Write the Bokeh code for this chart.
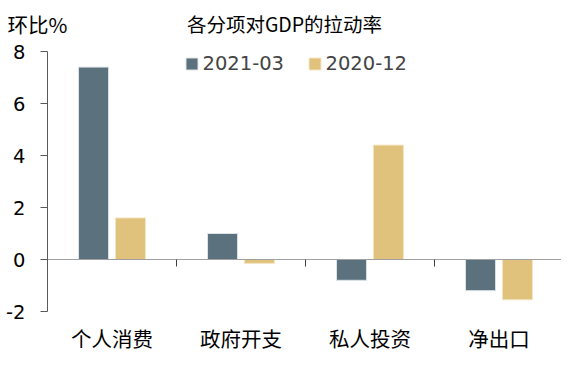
from bokeh.plotting import figure
from bokeh.models import (ColumnDataSource, Range1d, FixedTicker, LinearAxis, Label,
                          Legend, LegendItem)
from bokeh.transform import dodge
from bokeh.embed import file_html
from bokeh.resources import INLINE

categories = ["个人消费", "政府开支", "私人投资", "净出口"]
series_names = ["2021-03", "2020-12"]
values_2021_03 = [7.4, 1.0, -0.8, -1.2]
values_2020_12 = [1.6, -0.15, 4.4, -1.55]
y_ticks = [-2, 0, 2, 4, 6, 8]
y_tick_labels = ["-2", "0", "2", "4", "6", "8"]
title_text = "各分项对GDP的拉动率"
y_label = "环比%"

DARK = "#5C717E"
GOLD = "#E0C27C"
FONT = "Noto Sans CJK SC"
NUMFONT = "DejaVu Sans"

W, H = 561, 351
PX_X = 129          # px per category
PX_Y = 26           # px per y unit
LEFT, TOP = 47, 51  # px from canvas edge to the y axis / the top tick

n = len(categories)
x0 = -LEFT / PX_X
x1 = x0 + W / PX_X
y1 = y_ticks[-1] + TOP / PX_Y
y0 = y1 - H / PX_Y

centers = [i + 0.5 for i in range(n)]
src = ColumnDataSource(dict(x=centers, a=values_2021_03, b=values_2020_12))

p = figure(frame_width=W, frame_height=H, output_backend="svg", toolbar_location=None,
           x_range=Range1d(x0, x1), y_range=Range1d(y0, y1),
           min_border=0, x_axis_location=None, y_axis_location=None)
p.outline_line_color = None
p.grid.visible = False
p.background_fill_color = "white"
p.border_fill_color = "white"

# y axis
yax = LinearAxis(ticker=FixedTicker(ticks=y_ticks), bounds=(y_ticks[0], y_ticks[-1]),
                 fixed_location=0,
                 major_label_overrides={t: s for t, s in zip(y_ticks, y_tick_labels)})
yax.axis_line_color = "#595959"
yax.major_tick_line_color = "#595959"
yax.major_tick_in = 0
yax.major_tick_out = 7
yax.minor_tick_line_color = None
yax.major_label_standoff = 15
yax.major_label_text_font = NUMFONT
yax.major_label_text_font_size = "19.5px"
yax.major_label_text_color = "black"
p.add_layout(yax, "left")

# category labels under the plot
xax = LinearAxis(ticker=FixedTicker(ticks=centers), fixed_location=y_ticks[0],
                 major_label_overrides={c: lab for c, lab in zip(centers, categories)})
xax.axis_line_color = None
xax.major_tick_line_color = None
xax.minor_tick_line_color = None
xax.major_tick_out = 0
xax.major_label_standoff = 11
xax.major_label_text_font = FONT
xax.major_label_text_font_size = "20.5px"
xax.major_label_text_color = "black"
p.add_layout(xax, "below")

# zero axis with boundary ticks
bounds = list(range(n + 1))
zax = LinearAxis(ticker=FixedTicker(ticks=bounds), fixed_location=0, bounds=(0, n),
                 major_label_overrides={b: "" for b in bounds})
zax.axis_line_color = "#A0A0A0"
zax.major_tick_line_color = "#404040"
zax.major_tick_in = 0
zax.major_tick_out = 7
zax.minor_tick_line_color = None
zax.major_label_standoff = 0
p.add_layout(zax, "below")

r1 = p.vbar(x=dodge("x", -0.143), top="a", bottom=0, width=0.233, source=src,
            fill_color=DARK, line_color="#DDE3E6", line_width=1)
r2 = p.vbar(x=dodge("x", 0.143), top="b", bottom=0, width=0.233, source=src,
            fill_color=GOLD, line_color="#F3E6C4", line_width=1)

leg_bottom = H - 63 - 12
for rend, name, xloc in [(r1, series_names[0], 183.5), (r2, series_names[1], 306.5)]:
    lg = Legend(items=[LegendItem(label=name, renderers=[rend])], location=(xloc, leg_bottom),
                orientation="horizontal", glyph_width=15, glyph_height=15,
                label_standoff=4, padding=0, margin=0, spacing=0,
                border_line_color=None, background_fill_alpha=0,
                label_text_font=NUMFONT, label_text_font_size="19.5px",
                label_height=24)
    p.add_layout(lg, "center")

p.add_layout(Label(x=x0 + 7 / PX_X, y=y1 - 23 / PX_Y, text=y_label,
                   text_font=FONT, text_font_size="20.5px", text_baseline="middle",
                   text_align="left", text_color="black"))
p.add_layout(Label(x=x0 + 284 / PX_X, y=y1 - 23 / PX_Y, text=title_text,
                   text_font=FONT, text_font_size="19.5px", text_baseline="middle",
                   text_align="center", text_color="black"))

open("out.html", "w").write(file_html(p, INLINE))
